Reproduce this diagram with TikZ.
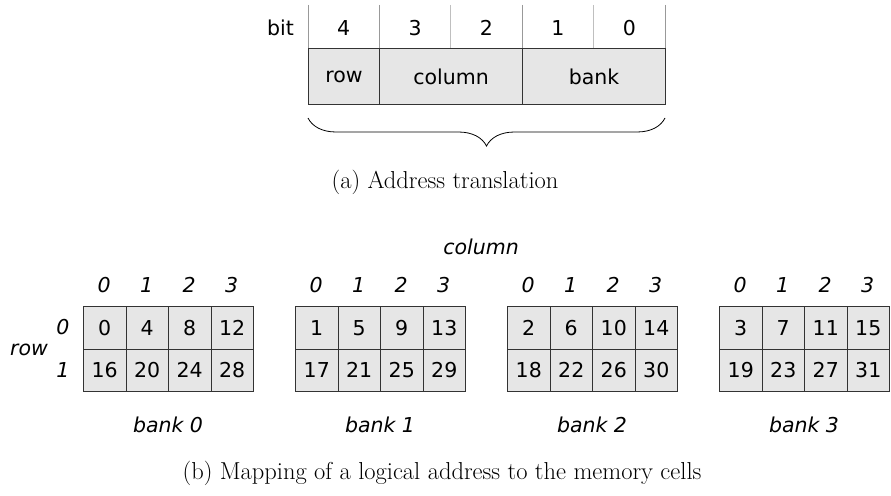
\documentclass[tikz,border=0pt]{standalone}
\usepackage{fontspec}
\newfontfamily\dejavu{DejaVu Sans}
\usetikzlibrary{decorations.pathreplacing}
\definecolor{cellgray}{HTML}{E6E6E6}
\definecolor{edgegray}{HTML}{333333}
\begin{document}
\begin{tikzpicture}[x=1pt,y=-1pt,
  sans/.style={font=\dejavu\fontsize{20.5}{25}\selectfont},
  ital/.style={font=\dejavu\itshape\fontsize{20.5}{25}\selectfont},
  caption/.style={font=\fontsize{24.5}{30}\selectfont},
  field/.style={draw=edgegray, fill=cellgray, line width=1pt, minimum height=56pt,
    inner sep=0pt, anchor=north west, sans},
  cell/.style={draw=edgegray, fill=cellgray, line width=1pt, minimum width=42.5pt,
    minimum height=42.5pt, inner sep=0pt, anchor=north west, sans},
  bitline/.style={draw=black!40, line width=1pt},
  minorline/.style={draw=black!25, line width=1pt},
]
\useasboundingbox (0,0) rectangle (891,495);

% ---- address layout ----
\node[sans] (bitlabel) at (280.5,28) {bit};
\foreach \i/\v in {0/4,1/3,2/2,3/1,4/0}
  \node[sans] (bit\v) at (343.7+71.4*\i,28) {\v};
\foreach \x in {308,379,522,665}
  \draw[bitline] (\x,5) -- (\x,48);
\foreach \x in {450.5,593.5}
  \draw[minorline] (\x,5) -- (\x,48);

\node[field, minimum width=71pt]  (frow) at (308,48) {row};
\node[field, minimum width=143pt] (fcol) at (379,48) {column};
\node[field, minimum width=143pt] (fbank) at (522,48) {bank};

\coordinate (bl) at (308,118);
\coordinate (br) at (665,118);
\draw[line width=0.8pt, decorate, decoration={brace, mirror, amplitude=28pt}] (bl) -- (br);

\node[caption] (capa) at (445,182) {(a) Address translation};

% ---- memory banks ----
\node[ital] (coltitle) at (481,247) {column};
\node[ital] (rowtitle) at (29,350) {row};
\node[ital] (row0) at (63,327) {0};
\node[ital] (row1) at (63,370) {1};

\foreach \b in {0,1,2,3} {
  \pgfmathsetmacro{\left}{83+212*\b}
  \foreach \c in {0,1,2,3} {
    \node[ital] (colnum\b\c) at (\left+21.25+42.5*\c,285) {\c};
    \foreach \r in {0,1} {
      \pgfmathtruncatemacro{\val}{16*\r+4*\c+\b}
      \node[cell] (cell\b\r\c) at (\left+42.5*\c,306+42.5*\r) {\val};
    }
  }
  \node[ital] (banklabel\b) at (\left+85,425) {bank \b};
}

\node[caption] (capb) at (442,473) {(b) Mapping of a logical address to the memory cells};
\end{tikzpicture}
\end{document}
